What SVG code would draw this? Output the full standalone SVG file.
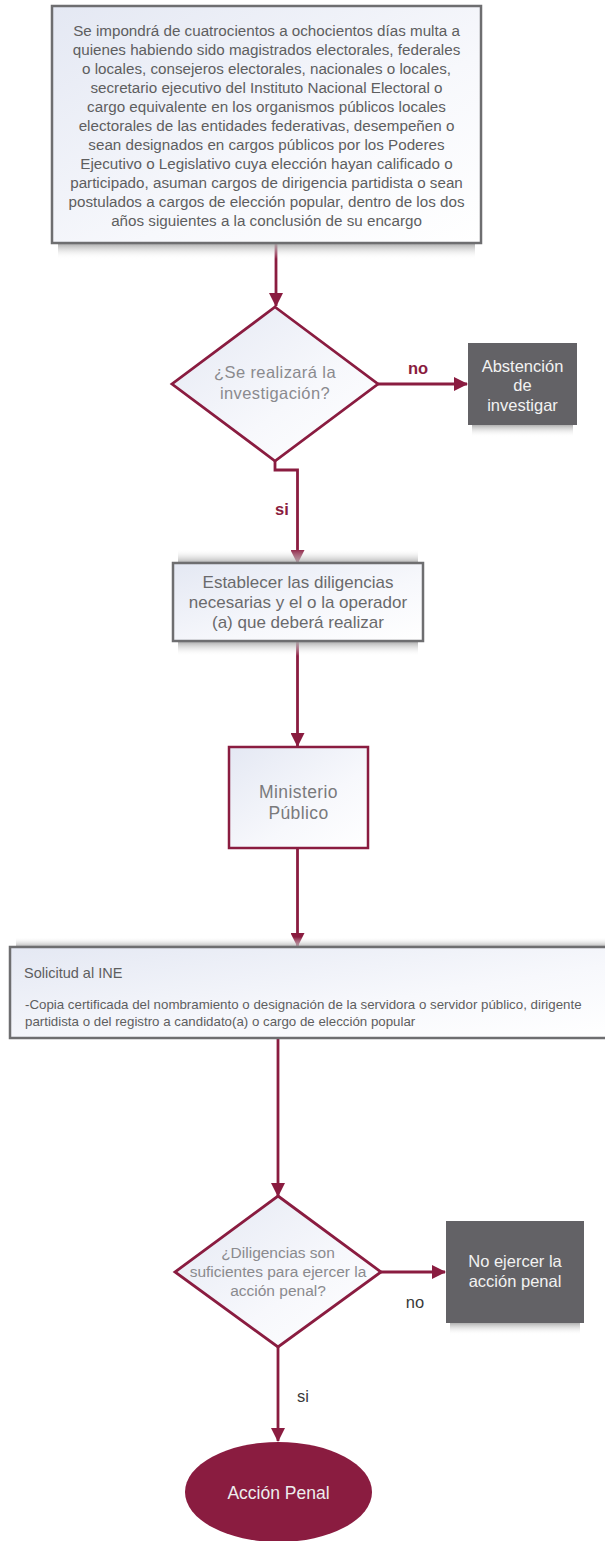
<svg xmlns="http://www.w3.org/2000/svg" width="605" height="1541" viewBox="0 0 605 1541">
<defs>
<linearGradient id="boxfill" x1="0" y1="0" x2="1" y2="1">
<stop offset="0" stop-color="#e4e8f3"/>
<stop offset="0.6" stop-color="#f7f8fc"/>
<stop offset="1" stop-color="#ffffff"/>
</linearGradient>
<linearGradient id="shDown" x1="0" y1="0" x2="0" y2="1">
<stop offset="0" stop-color="#a8a8a8" stop-opacity="0.9"/>
<stop offset="1" stop-color="#ffffff" stop-opacity="0"/>
</linearGradient>
<linearGradient id="shUp" x1="0" y1="1" x2="0" y2="0">
<stop offset="0" stop-color="#a8a8a8" stop-opacity="0.9"/>
<stop offset="1" stop-color="#ffffff" stop-opacity="0"/>
</linearGradient>
<marker id="arr" markerUnits="userSpaceOnUse" markerWidth="14" markerHeight="14" viewBox="0 0 14 14" refX="13" refY="7" orient="auto">
<path d="M0,0 L14,7 L0,14 Z" fill="#8a1c40"/>
</marker>
<style>
.box{fill:url(#boxfill);stroke:#6e6e70;stroke-width:2.5}
.mbox{fill:url(#boxfill);stroke:#8a1c40;stroke-width:2.5}
.dark{fill:#636266}
.t{font-family:"Liberation Sans","Noto Sans",sans-serif;text-anchor:middle}
.tl{font-family:"Liberation Sans","Noto Sans",sans-serif}
.c{fill:none;stroke:#8a1c40;stroke-width:2.8;marker-end:url(#arr)}
</style>
</defs>

<g id="connectors">
<path class="c" d="M276,244 L276,306"/>
<path class="c" d="M378,384 L467,384"/>
<path class="c" d="M275,460 L275,470 L297.5,470 L297.5,563"/>
<path class="c" d="M297.5,642 L297.5,746"/>
<path class="c" d="M297.5,849 L297.5,946"/>
<path class="c" d="M278,1039 L278,1196"/>
<path class="c" d="M381,1272 L445,1272"/>
<path class="c" d="M278,1347 L278,1441"/>
<text class="t" x="418" y="374" font-size="16.5" font-weight="bold" fill="#8a1c40">no</text>
<text class="t" x="282" y="515" font-size="16.5" font-weight="bold" fill="#8a1c40">si</text>
<text class="t" x="415" y="1308" font-size="16.5" fill="#3a3a3a">no</text>
<text class="t" x="303" y="1402" font-size="16.5" fill="#3a3a3a">si</text>
</g>

<g id="n1">
<rect x="58" y="244" width="417" height="15" fill="url(#shDown)"/>
<rect class="box" x="52" y="6" width="429" height="237"/>
<g class="t" font-size="15.2" fill="#5e5e60">
<text x="266.5" y="36">Se impondrá de cuatrocientos a ochocientos días multa a</text>
<text x="266.5" y="55">quienes habiendo sido magistrados electorales, federales</text>
<text x="266.5" y="74">o locales, consejeros electorales, nacionales o locales,</text>
<text x="266.5" y="93">secretario ejecutivo del Instituto Nacional Electoral o</text>
<text x="266.5" y="112">cargo equivalente en los organismos públicos locales</text>
<text x="266.5" y="131">electorales de las entidades federativas, desempeñen o</text>
<text x="266.5" y="150">sean designados en cargos públicos por los Poderes</text>
<text x="266.5" y="169">Ejecutivo o Legislativo cuya elección hayan calificado o</text>
<text x="266.5" y="188">participado, asuman cargos de dirigencia partidista o sean</text>
<text x="266.5" y="207">postulados a cargos de elección popular, dentro de los dos</text>
<text x="266.5" y="226">años siguientes a la conclusión de su encargo</text>
</g>
</g>

<g id="d1">
<polygon points="275,307 378,384 275,461 172,384" fill="url(#boxfill)" stroke="#8a1c40" stroke-width="2.8"/>
<text class="t" x="275" y="378" font-size="16.5" letter-spacing="0.4" fill="#8a8a8e">¿Se realizará la</text>
<text class="t" x="275" y="399" font-size="16.5" letter-spacing="0.4" fill="#8a8a8e">investigación?</text>
</g>

<g id="n_abst">
<rect x="472" y="425" width="101" height="12" fill="url(#shDown)"/>
<rect class="dark" x="468" y="343" width="109" height="82"/>
<g class="t" font-size="16.5" fill="#f2f2f2">
<text x="522.5" y="372">Abstención</text>
<text x="522.5" y="391">de</text>
<text x="522.5" y="411">investigar</text>
</g>
</g>

<g id="n_establecer">
<rect x="178" y="549" width="240" height="14" fill="url(#shUp)"/>
<rect x="178" y="642" width="240" height="14" fill="url(#shDown)"/>
<rect class="box" x="173" y="563" width="250" height="78"/>
<g class="t" font-size="17" fill="#6a6a6c">
<text x="298" y="588">Establecer las diligencias</text>
<text x="298" y="608">necesarias y el o la operador</text>
<text x="298" y="628">(a) que deberá realizar</text>
</g>
</g>

<g id="n_ministerio">
<rect class="mbox" x="229" y="747" width="139" height="101"/>
<text class="t" x="298.5" y="798" font-size="17.5" letter-spacing="0.4" fill="#7a7a7c">Ministerio</text>
<text class="t" x="298.5" y="819" font-size="17.5" letter-spacing="0.4" fill="#7a7a7c">Público</text>
</g>

<g id="n_solicitud">
<rect x="16" y="937" width="589" height="10" fill="url(#shUp)"/>
<rect class="box" x="10" y="947" width="600" height="91"/>
<text class="tl" x="24" y="978" font-size="14.5" fill="#5e5e60">Solicitud al INE</text>
<text class="tl" x="25" y="1009" font-size="13.3" fill="#5e5e60">-Copia certificada del nombramiento o designación de la servidora o servidor público, dirigente</text>
<text class="tl" x="25" y="1026" font-size="13.3" fill="#5e5e60">partidista o del registro a candidato(a) o cargo de elección popular</text>
</g>

<g id="d2">
<polygon points="278,1196 381,1272 278,1347 175,1272" fill="url(#boxfill)" stroke="#8a1c40" stroke-width="2.8"/>
<g class="t" font-size="15.5" fill="#8a8a8e">
<text x="278" y="1258">¿Diligencias son</text>
<text x="278" y="1277">suficientes para ejercer la</text>
<text x="278" y="1296">acción penal?</text>
</g>
</g>

<g id="n_noejercer">
<rect x="450" y="1323" width="130" height="12" fill="url(#shDown)"/>
<rect class="dark" x="446" y="1221" width="138" height="102"/>
<text class="t" x="515" y="1267" font-size="16.5" fill="#f2f2f2">No ejercer la</text>
<text class="t" x="515" y="1287" font-size="16.5" fill="#f2f2f2">acción penal</text>
</g>

<g id="n_accion">
<ellipse cx="278.5" cy="1492" rx="93.5" ry="50" fill="#8a1c40"/>
<text class="t" x="278.5" y="1499" font-size="17.5" fill="#ededed">Acción Penal</text>
</g>
</svg>
